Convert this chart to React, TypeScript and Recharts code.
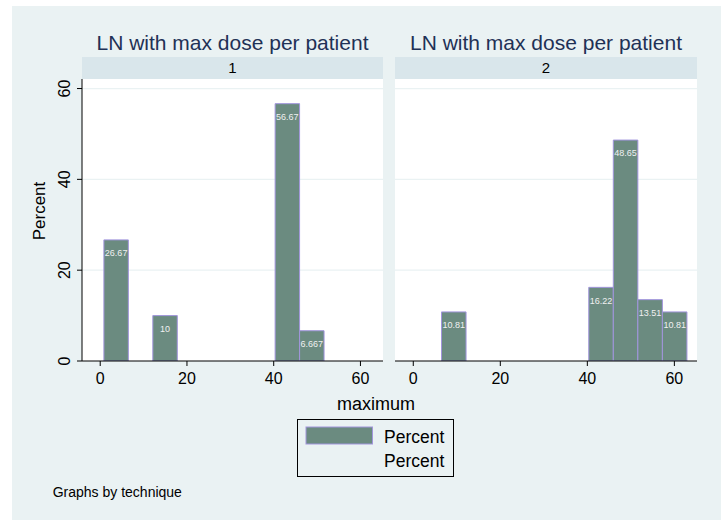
import React from 'react';
import { BarChart, Bar, XAxis, YAxis, CartesianGrid, LabelList, Rectangle } from 'recharts';

// histogram bins of "maximum" (bin midpoints), width
const binMid = [3.72, 9.36, 15.0, 20.64, 26.28, 31.92, 37.56, 43.2, 48.84, 54.48, 60.12];
const binWidth = 5.64;
const pctTech1 = [26.67, 0, 10, 0, 0, 0, 0, 56.67, 6.667, 0, 0];
const pctTech2 = [0, 10.81, 0, 0, 0, 0, 0, 16.22, 48.65, 13.51, 10.81];
const xTicks = [0, 20, 40, 60];
const yTicks = [0, 20, 40, 60];
const panels = ['1', '2'];

const X_DOMAIN: [number, number] = [-4.2, 65.2];
const Y_DOMAIN: [number, number] = [0, 62.1];

const FONT = '"Liberation Sans", Arial, Helvetica, sans-serif';
const BG = '#eaf2f3';
const STRIP = '#d9e6eb';
const BAR_FILL = '#6b8b80';
const BAR_STROKE = '#a195dc';
const TITLE_COLOR = '#1f3156';

const toRows = (vals: number[]) => binMid.map((m, i) => ({ mid: m, pct: vals[i] }));

const YTick = (props: any) => {
  const { x, y, payload } = props;
  return (
    <text
      x={x - 2}
      y={y}
      transform={`rotate(-90, ${x - 2}, ${y})`}
      textAnchor="middle"
      fontSize={16}
      fontFamily={FONT}
      fill="#000"
    >
      {payload.value}
    </text>
  );
};

const fmtLabel = (v: any) => (Number(v) === 0 ? '' : String(v));

// keeps the bar centred where recharts put it, but makes it one full bin wide
const binShape = (binPx: number) => (props: any) => {
  const { x, width, y, height } = props;
  if (!height) return <g />;
  const cx = x + width / 2;
  return (
    <Rectangle
      x={cx - binPx / 2}
      y={y}
      width={binPx}
      height={height}
      fill={BAR_FILL}
      stroke={BAR_STROKE}
      strokeWidth={1}
    />
  );
};

interface PanelProps {
  rows: { mid: number; pct: number }[];
  left: number;
  width: number;
  margin: { top: number; right: number; bottom: number; left: number };
  showY: boolean;
}

const Panel: React.FC<PanelProps> = ({ rows, left, width, margin, showY }) => {
  const height = 400;
  const yAxisW = showY ? 40 : 0;
  const plotW = width - margin.left - margin.right - yAxisW;
  const binPx = (binWidth * plotW) / (X_DOMAIN[1] - X_DOMAIN[0]);
  return (
    <div style={{ position: 'absolute', left, top: 0 }}>
      <BarChart
        width={width}
        height={height}
        data={rows}
        margin={margin}
        barCategoryGap={0}
        barGap={0}
      >
        <CartesianGrid
          vertical={false}
          horizontal
          fill="#ffffff"
          stroke={BG}
          strokeWidth={1.2}
          horizontalValues={[20, 40, 60]}
        />
        <XAxis
          dataKey="mid"
          type="number"
          domain={X_DOMAIN}
          ticks={xTicks}
          allowDataOverflow
          height={30}
          tickSize={5}
          tickMargin={7}
          stroke="#000"
          tick={{ fontSize: 16, fontFamily: FONT, fill: '#000' }}
          tickLine={{ stroke: '#000' }}
        />
        <YAxis
          type="number"
          domain={Y_DOMAIN}
          ticks={yTicks}
          allowDataOverflow
          hide={!showY}
          width={yAxisW}
          tickSize={5}
          tickMargin={5}
          stroke="#000"
          tick={<YTick />}
          tickLine={{ stroke: '#000' }}
        />
        <Bar
          dataKey="pct"
          fill={BAR_FILL}
          stroke={BAR_STROKE}
          barSize={binPx}
          shape={binShape(binPx)}
          isAnimationActive={false}
        >
          <LabelList
            dataKey="pct"
            position="insideTop"
            offset={10}
            formatter={fmtLabel}
            fill="#f0f0f0"
            fontSize={9}
            fontFamily={FONT}
          />
        </Bar>
      </BarChart>
    </div>
  );
};

export default function App() {
  return (
    <div style={{ position: 'relative', width: 727, height: 520, background: '#fff', overflow: 'hidden', fontFamily: FONT }}>
      <style>{'body{margin:0}'}</style>
      <div style={{ position: 'absolute', left: 12, top: 6, width: 709, height: 514, background: BG }} />
      {/* strips */}
      <div style={{ position: 'absolute', left: 82, top: 57, width: 301, height: 22, background: STRIP }} />
      <div style={{ position: 'absolute', left: 395, top: 57, width: 302, height: 22, background: STRIP }} />

      <Panel
        rows={toRows(pctTech1)}
        left={0}
        width={400}
        margin={{ top: 79, right: 17, bottom: 9, left: 42 }}
        showY
      />
      <Panel
        rows={toRows(pctTech2)}
        left={380}
        width={340}
        margin={{ top: 79, right: 23, bottom: 9, left: 15 }}
        showY={false}
      />

      <svg width={727} height={520} style={{ position: 'absolute', left: 0, top: 0, pointerEvents: 'none' }}>
        {/* panel titles and strip labels */}
        <text x={232.5} y={49.5} textAnchor="middle" fontSize={21} fill={TITLE_COLOR} fontFamily={FONT}>
          LN with max dose per patient
        </text>
        <text x={546} y={49.5} textAnchor="middle" fontSize={21} fill={TITLE_COLOR} fontFamily={FONT}>
          LN with max dose per patient
        </text>
        <text x={232.5} y={73.3} textAnchor="middle" fontSize={15} fill="#000" fontFamily={FONT}>
          {panels[0]}
        </text>
        <text x={546} y={73.3} textAnchor="middle" fontSize={15} fill="#000" fontFamily={FONT}>
          {panels[1]}
        </text>

        {/* axis titles */}
        <text
          x={45}
          y={211}
          transform="rotate(-90, 45, 211)"
          textAnchor="middle"
          fontSize={17}
          fill="#000"
          fontFamily={FONT}
        >
          Percent
        </text>
        <text x={376} y={410} textAnchor="middle" fontSize={18} fill="#000" fontFamily={FONT}>
          maximum
        </text>

        {/* legend */}
        <rect x={297.5} y={419.5} width={156} height={57} fill={BG} stroke="#000" strokeWidth={1} />
        <rect x={306} y={427} width={66.5} height={17} fill={BAR_FILL} stroke={BAR_STROKE} strokeWidth={1} />
        <text x={384} y={442.7} fontSize={17.5} fill="#000" fontFamily={FONT}>Percent</text>
        <text x={384} y={467.3} fontSize={17.5} fill="#000" fontFamily={FONT}>Percent</text>

        <text x={52.7} y={497.3} fontSize={14} fill="#000" fontFamily={FONT}>Graphs by technique</text>
      </svg>
    </div>
  );
}
